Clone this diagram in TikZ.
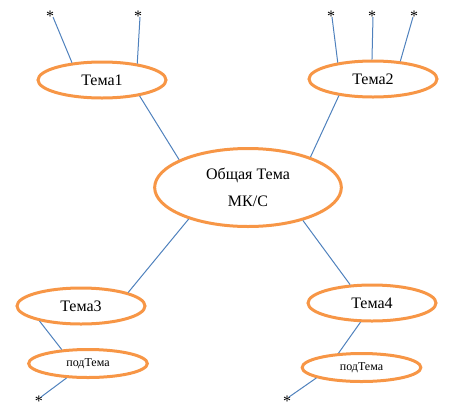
\documentclass[tikz,border=0pt]{standalone}
\usepackage{fontspec}
\setmainfont{Liberation Serif}
\usetikzlibrary{shapes.geometric}
\definecolor{ored}{HTML}{F79646}
\definecolor{lblue}{HTML}{4F81BD}
\begin{document}
\begin{tikzpicture}[x=0.75pt,y=-0.75pt,
  topic/.style={ellipse,draw=ored,line width=2.25pt,inner sep=0pt,
    minimum width=96pt,minimum height=27pt,font=\fontsize{12pt}{14pt}\selectfont},
  subtopic/.style={ellipse,draw=ored,line width=2.25pt,inner sep=0pt,
    minimum width=89pt,minimum height=21pt,font=\fontsize{9pt}{11pt}\selectfont},
  link/.style={draw=lblue,line width=0.75pt},
  star/.style={inner sep=0pt,font=\fontsize{12pt}{14pt}\selectfont}]
\useasboundingbox (0,0) rectangle (468,408);
% main nodes
\node[ellipse,draw=ored,line width=2.25pt,inner sep=0pt,minimum width=140pt,minimum height=58.5pt,
  align=center,font=\fontsize{12pt}{14pt}\selectfont] (c) at (248,187.5) {Общая Тема\\[6pt]МК/С};
\node[topic] (t1) at (102,80) {Тема1};
\node[topic] (t2) at (373,79) {Тема2};
\node[topic] (t3) at (81,306) {Тема3};
\node[topic] (t4) at (372,303) {Тема4};
\node[subtopic] (s3) at (88,363.5) {подТема};
\node[subtopic] (s4) at (361.5,367.5) {подТема};
% stars
\node[star] (a1) at (50,16) {*};
\node[star] (a2) at (138,16) {*};
\node[star] (b1) at (331,16) {*};
\node[star] (b2) at (372,16) {*};
\node[star] (b3) at (414,16) {*};
\node[star] (d3) at (39,401) {*};
\node[star] (d4) at (287,401) {*};
\coordinate (ea1) at (53,17);
\coordinate (ea2) at (140,17);
\coordinate (eb1) at (332,17);
\coordinate (eb2) at (373,17);
\coordinate (eb3) at (413,17);
\coordinate (ed3) at (41,397);
\coordinate (ed4) at (289,397);
% connectors
\draw[link] (ea1) -- (t1.150.8);
\draw[link] (ea2) -- (t1.25.9);
\draw[link] (t1.-23) -- (c.158);
\draw[link] (eb1) -- (t2.155.8);
\draw[link] (eb2) -- (t2.93);
\draw[link] (eb3) -- (t2.33.2);
\draw[link] (t2.-154) -- (c.26.2);
\draw[link] (c.-152.7) -- (t3.16.9);
\draw[link] (c.-31.3) -- (t4.140.2);
\draw[link] (t3.-160) -- (s3.152.6);
\draw[link] (s3.-146) -- (ed3);
\draw[link] (t4.-121) -- (s4.148);
\draw[link] (s4.193.3) -- (ed4);
\end{tikzpicture}
\end{document}
